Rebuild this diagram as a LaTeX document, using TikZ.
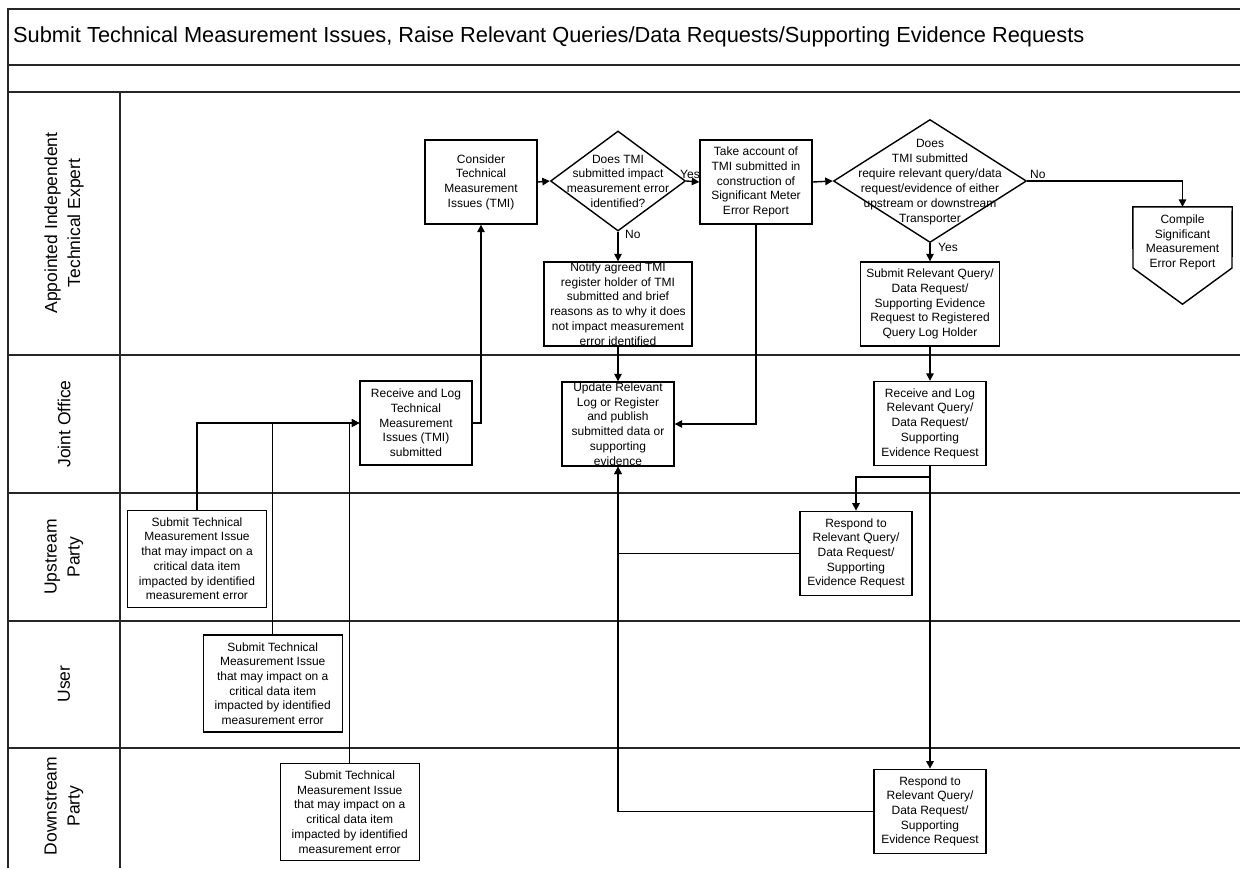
\documentclass[tikz,border=0pt]{standalone}
\usepackage{fontspec}
\setmainfont{Liberation Sans}
\usetikzlibrary{shapes.geometric,arrows.meta}
\tikzset{
  frame/.style={line width=1.8pt, draw=black!85},
  box/.style={draw, line width=1.4pt, fill=white, inner sep=0pt, align=center,
    minimum width=112pt, minimum height=84pt, font=\fontsize{12}{14.7}\selectfont},
  wbox/.style={box, minimum width=139pt, minimum height=97pt},
  dia/.style={draw, line width=1.4pt, diamond, fill=white, inner sep=0pt},
  txt/.style={align=center, inner sep=0pt, font=\fontsize{12}{14.7}\selectfont},
  lanelbl/.style={rotate=90, align=center, inner sep=0pt, font=\fontsize{17.5}{23}\selectfont},
  arr/.style={line width=1.4pt, -{Triangle[length=7.5pt,width=7.5pt]}},
  conn/.style={line width=1.4pt},
  lbl/.style={anchor=west, inner sep=0pt, font=\fontsize{12}{14}\selectfont}
}
\begin{document}
\begin{tikzpicture}[x=1pt,y=-1pt]
\useasboundingbox (0,0) rectangle (1240,868);
% frame
\draw[frame] (8,868) -- (8,9) -- (1240,9);
\draw[frame] (8,65) -- (1240,65);
\draw[frame] (8,92) -- (1240,92);
\draw[frame] (120,92) -- (120,868);
\draw[frame] (8,355) -- (1240,355);
\draw[frame] (8,493) -- (1240,493);
\draw[frame] (8,621) -- (1240,621);
\draw[frame] (8,748) -- (1240,748);
\node[anchor=west, inner sep=0pt, font=\fontsize{21.8}{26}\selectfont] (title) at (13,37)
  {Submit Technical Measurement Issues, Raise Relevant Queries/Data Requests/Supporting Evidence Requests};
% lane labels
\node[lanelbl] (l1) at (64,223) {Appointed Independent\\Technical Expert};
\node[lanelbl] (l2) at (64,424) {Joint Office};
\node[lanelbl] (l3) at (64,557) {Upstream\\Party};
\node[lanelbl] (l4) at (64,684) {User};
\node[lanelbl] (l5) at (64,806) {Downstream\\Party};
% AITE lane
\node[box] (tmi) at (481,182) {Consider\\Technical\\Measurement\\Issues (TMI)};
\node[dia, minimum width=135pt, minimum height=100pt] (d1) at (618,181) {};
\node[txt] (d1t) at (618,181) {Does TMI\\submitted impact\\measurement error\\identified?};
\node[box] (take) at (756,182) {Take account of\\TMI submitted in\\construction of\\Significant Meter\\Error Report};
\node[box, minimum width=148pt, label={[txt]center:Notify agreed TMI\\register holder of TMI\\submitted and brief\\reasons as to why it does\\not impact measurement\\error identified}] (ntf) at (618,304) {};
\node[dia, minimum width=193pt, minimum height=123pt] (d2) at (930,181) {};
\node[txt, font=\fontsize{12}{15}\selectfont] (d2t) at (930,182) {Does\\TMI submitted\\require relevant query/data\\request/evidence of either\\upstream or downstream\\Transporter};
\node[box, minimum width=139pt] (srq) at (930,304) {Submit Relevant Query/\\Data Request/\\Supporting Evidence\\Request to Registered\\Query Log Holder};
\node[minimum width=99pt, minimum height=97pt, inner sep=0pt] (cmp) at (1182.5,255.5) {};
\draw[line width=1.4pt, fill=white] (cmp.north west) -- (cmp.north east) -- (1232,268) -- (cmp.south) -- (1133,268) -- cycle;
\node[txt] (cmpt) at (1182.5,242.5) {Compile\\Significant\\Measurement\\Error Report};
% Joint office lane
\node[box] (rtmi) at (416,423) {Receive and Log\\Technical\\Measurement\\Issues (TMI)\\submitted};
\node[box, label={[txt]center:Update Relevant\\Log or Register\\and publish\\submitted data or\\supporting\\evidence}] (upd) at (618,424) {};
\node[box] (rrq) at (930,423.5) {Receive and Log\\Relevant Query/\\Data Request/\\Supporting\\Evidence Request};
% Upstream
\node[wbox] (us) at (197,558.7) {Submit Technical\\Measurement Issue\\that may impact on a\\critical data item\\impacted by identified\\measurement error};
\node[box] (urs) at (856,553.3) {Respond to\\Relevant Query/\\Data Request/\\Supporting\\Evidence Request};
% User
\node[wbox] (usr) at (272.7,683.5) {Submit Technical\\Measurement Issue\\that may impact on a\\critical data item\\impacted by identified\\measurement error};
% Downstream
\node[wbox] (ds) at (349.7,812) {Submit Technical\\Measurement Issue\\that may impact on a\\critical data item\\impacted by identified\\measurement error};
\node[box] (drs) at (930,811.3) {Respond to\\Relevant Query/\\Data Request/\\Supporting\\Evidence Request};
% connectors
\draw[arr] (tmi.east) -- (d1.west);
\draw[arr] (d1.east) -- (take.west);
\node[lbl] (yes1) at (680,174) {Yes};
\draw[arr] (d1.south) -- (ntf.north);
\node[lbl] (no1) at (625,234) {No};
\draw[arr] (take.east) -- (d2.west);
\draw[arr] (d2.east) -| (cmp.north);
\node[lbl] (no2) at (1030,174) {No};
\draw[arr] (d2.south) -- (srq.north);
\node[lbl] (yes2) at (938,247) {Yes};
\draw[arr] (srq.south) -- (rrq.north);
\coordinate (j1) at (930,477);
\draw[arr] (rrq.south) -- (j1) -| (urs.north);
\draw[arr] (rrq.south) -- (drs.north);
\draw[arr] (urs.west) -| (upd.south);
\draw[arr] (drs.west) -| (upd.south);
\draw[arr] (ntf.south) -- (upd.north);
\draw[arr] (take.south) |- (upd.east);
\draw[arr] (rtmi.east) -| (tmi.south);
\draw[arr] (us.north) |- (rtmi.west);
\draw[arr] (usr.north) |- (rtmi.west);
\draw[arr] (ds.north) |- (rtmi.west);
\end{tikzpicture}
\end{document}
